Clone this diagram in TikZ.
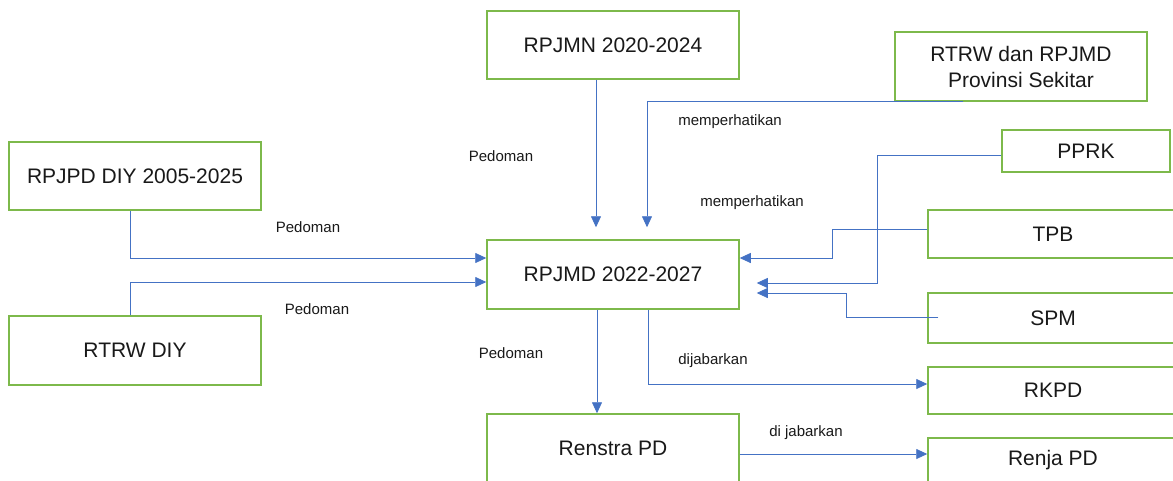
\documentclass[tikz,border=0pt]{standalone}
\usepackage{fontspec}
\setmainfont{Liberation Sans}
\usetikzlibrary{arrows.meta}
\definecolor{boxgreen}{RGB}{125,185,75}
\definecolor{linkblue}{RGB}{68,114,196}
\definecolor{txt}{RGB}{25,25,25}
\tikzset{
  box/.style={draw=boxgreen, line width=1.5pt, rectangle, inner sep=0pt, text=txt,
    font=\fontsize{21}{26}\selectfont, align=center},
  conn/.style={draw=linkblue, line width=0.8pt, -{Triangle[length=11pt,width=10pt]}},
  lbl/.style={text=txt, font=\fontsize{15}{18}\selectfont, inner sep=0pt}
}
\begin{document}
\begin{tikzpicture}[x=1pt,y=-1pt]
\useasboundingbox[fill=white] (0,0) rectangle (1173,480);
% boxes
\node[box, minimum width=252pt, minimum height=68pt] (rpjpd) at (135,176) {RPJPD DIY 2005-2025};
\node[box, minimum width=252pt, minimum height=69pt] (rtrwdiy) at (135,350.5) {RTRW DIY};
\node[box, minimum width=252pt, minimum height=68pt] (rpjmn) at (613,45) {RPJMN 2020-2024};
\node[box, minimum width=252pt, minimum height=69pt] (rtrwprov) at (1021,66.5) {RTRW dan RPJMD\\Provinsi Sekitar};
\node[box, minimum width=168pt, minimum height=42pt] (pprk) at (1086,151) {PPRK};
\node[box, minimum width=250pt, minimum height=48pt] (tpb) at (1053,234) {TPB};
\node[box, minimum width=252pt, minimum height=69pt] (rpjmd) at (613,274.5) {RPJMD 2022-2027};
\node[box, minimum width=250pt, minimum height=50pt] (spm) at (1053,318) {SPM};
\node[box, minimum width=250pt, minimum height=47pt] (rkpd) at (1053,390.5) {RKPD};
\node[box, minimum width=252pt, minimum height=68pt] (renstra) at (613,448) {Renstra PD};
\node[box, minimum width=250pt, minimum height=44pt] (renja) at (1053,460) {Renja PD};
% connectors
\draw[conn] ([xshift=-5pt]rpjpd.south) |- ([yshift=16.5pt]rpjmd.west);
\draw[conn] ([xshift=-5pt]rtrwdiy.north) |- ([yshift=-7.5pt]rpjmd.west);
\draw[conn] ([xshift=-17pt]rpjmn.south) -- ([xshift=-17pt,yshift=12pt]rpjmd.north);
\draw[conn] ([xshift=-58pt]rtrwprov.south) -| ([xshift=34pt,yshift=12pt]rpjmd.north);
\draw[conn] ([yshift=-4pt]pprk.west) -- ++(-124,0) |- ([xshift=17pt,yshift=-8.5pt]rpjmd.east);
\draw[conn] ([yshift=5pt]tpb.west) -- ++(-95,0) |- ([yshift=16.5pt]rpjmd.east);
\draw[conn] ([xshift=11pt,yshift=1pt]spm.west) -- ++(-92,0) |- ([xshift=17pt,yshift=-18.5pt]rpjmd.east);
\draw[conn] ([xshift=-16pt]rpjmd.south) -- ([xshift=-16pt]renstra.north);
\draw[conn] ([xshift=35pt]rpjmd.south) |- ([yshift=6.5pt]rkpd.west);
\draw[conn] ([yshift=-6pt]renstra.east) -- ([yshift=6pt]renja.west);
% labels
\node[lbl] (lp1) at (308,227) {Pedoman};
\node[lbl] (lp2) at (317,309) {Pedoman};
\node[lbl] (lp3) at (501,156) {Pedoman};
\node[lbl] (lm1) at (730,122) {memperhatikan};
\node[lbl] (lm2) at (752,203) {memperhatikan};
\node[lbl] (lp4) at (511,353) {Pedoman};
\node[lbl] (ld) at (713,361) {dijabarkan};
\node[lbl] (ldj) at (806,433) {di jabarkan};
\end{tikzpicture}
\end{document}
